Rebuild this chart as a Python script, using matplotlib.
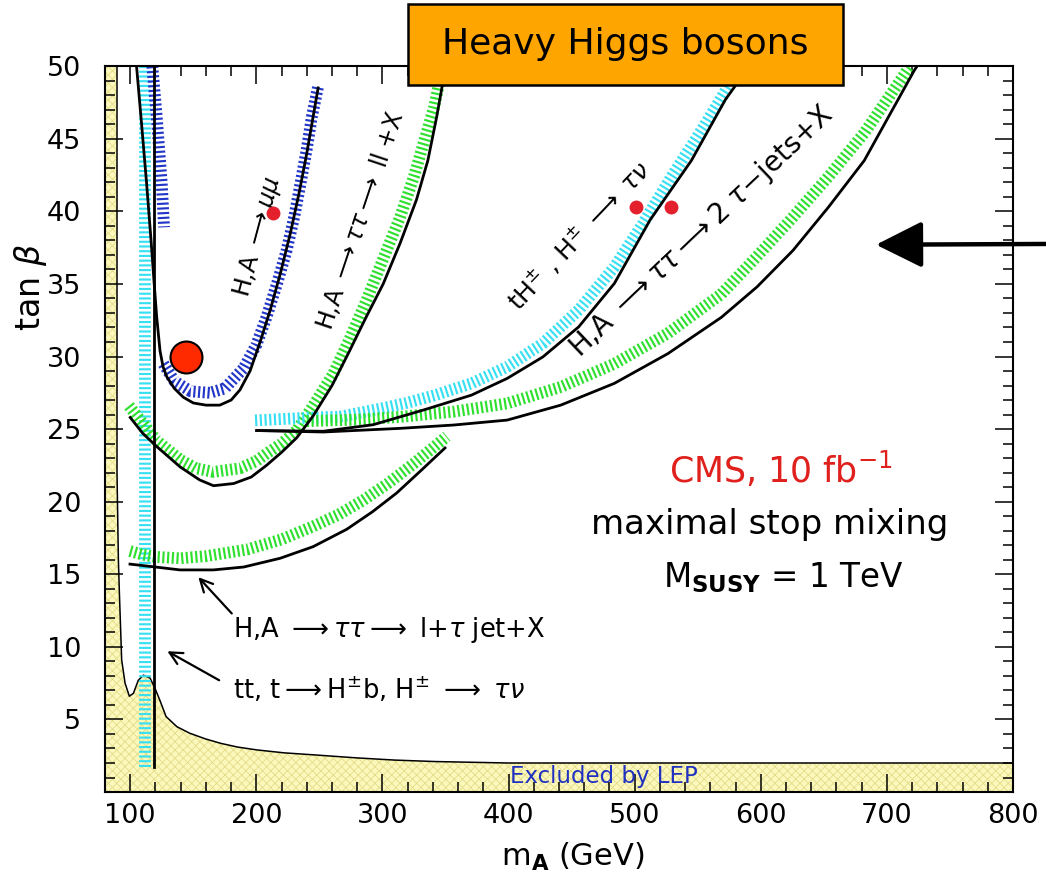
import numpy as np
import matplotlib
matplotlib.use("Agg")
import matplotlib.pyplot as plt
from matplotlib import ticker
from matplotlib.patches import Rectangle

plt.rcParams['font.family'] = ['DejaVu Sans']
plt.rcParams['mathtext.fontset'] = 'dejavusans'
plt.rcParams['hatch.linewidth'] = 0.6

# ---------------- data (m_A in GeV, tan beta) ----------------
# LEP excluded region boundary
lep_m = [80, 89.5, 89.5, 90.6, 91.4, 93.2, 95.9, 99.3, 102.5, 106.4, 110.4, 115.7,
         119.6, 123.6, 128.4, 137, 147.2, 160, 172, 185, 200.5, 222, 247.4, 280,
         310, 341.7, 400, 800]
lep_tb = [50, 50, 22, 16, 13.7, 9.1, 7.5, 6.6, 6.8, 7.7, 8.05, 7.85,
          7.15, 6.3, 5.2, 4.5, 4.05, 3.65, 3.35, 3.1, 2.9, 2.7, 2.55, 2.35,
          2.2, 2.1, 2.0, 2.0]

# t -> H+- b, H+- -> tau nu (vertical contour)
tt_band_m = [111.8, 111.8]
tt_band_tb = [1.7, 50]
tt_line_m = [119, 119]
tt_line_tb = [1.7, 50]

# H,A -> mu mu
mumu_band_m = [126.3, 135, 148, 163, 175, 190, 200, 208, 216, 224, 230, 235, 240, 244, 249]
mumu_band_tb = [29.5, 28.3, 27.6, 27.5, 27.8, 29.2, 30.8, 32.7, 34.9, 37.3, 39.6, 41.9, 44.3, 46.5, 48.6]
mumu_band2_m = [117.5, 121, 125, 126.8]
mumu_band2_tb = [50, 46.5, 41.9, 38.9]
mumu_line_m = [105, 109, 113, 116.5, 119, 121, 123.6, 126, 129, 135, 142, 150, 160, 171,
               180, 187, 195, 203, 211, 219, 227, 234, 240, 245, 249]
mumu_line_tb = [50, 46, 41.9, 38, 35, 32.7, 30.4, 29.3, 28.6, 27.8, 27.2, 26.8, 26.65, 26.65,
                27.0, 27.7, 29.0, 31.0, 33.2, 35.7, 38.5, 41.3, 44.0, 46.5, 48.5]

# H,A -> tau tau -> ll + X
ll_band_m = [99, 110, 121, 139.5, 152, 166, 187, 200, 208, 220, 232, 245, 261, 274,
             287.5, 300, 314, 325, 335, 341, 346, 347.5]
ll_band_tb = [26.6, 25.4, 24.2, 22.9, 22.3, 22.05, 22.3, 22.8, 23.3, 24.0, 24.9, 26.6, 28.8, 31.2,
              33.9, 36.6, 39.6, 42.4, 45.4, 47.2, 49.2, 50]
ll_line_m = [100, 110, 121, 139.5, 155, 166, 182, 196, 208, 220, 232, 245, 260, 274,
             287, 300.6, 314, 327, 336, 343, 350]
ll_line_tb = [25.8, 24.7, 23.8, 22.4, 21.5, 21.1, 21.25, 21.7, 22.5, 23.4, 24.4, 25.9, 28.0, 30.4,
              32.7, 35.0, 37.8, 40.8, 43.5, 46.5, 49.9]

# H,A -> tau tau -> l + tau jet + X
tj_band_m = [99.8, 110, 120, 139.5, 160, 192.4, 220, 245, 265, 284.8, 305, 324.5, 340, 351]
tj_band_tb = [16.6, 16.35, 16.2, 16.1, 16.25, 16.7, 17.4, 18.3, 19.1, 20.1, 21.3, 22.6, 23.7, 24.5]
tj_line_m = [99.8, 120, 139.5, 166, 190, 218.8, 245, 271.7, 292, 311.3, 330, 349.6]
tj_line_tb = [15.7, 15.5, 15.3, 15.3, 15.5, 16.1, 16.9, 18.1, 19.3, 20.6, 22.1, 23.7]

# tH+-, H+- -> tau nu
tn_band_m = [199, 245, 266, 298, 319, 342, 370.6, 398.9, 427.2, 455.6, 483.9, 506.5, 529.1,
             554.6, 577.3, 582]
tn_band_tb = [25.6, 25.8, 25.85, 26.4, 26.8, 27.34, 28.15, 29.29, 30.9, 33.2, 36.16, 39.15, 42.37,
              45.8, 49.04, 50]
tn_line_m = [200.3, 253, 292.6, 332, 370.6, 398.9, 427.2, 455.6, 483.9, 512.2, 545, 572, 591]
tn_line_tb = [24.9, 24.85, 25.3, 26.3, 27.34, 28.49, 29.97, 32.04, 35.03, 39.4, 43.5, 47.7, 50]

# H,A -> tau tau -> 2 tau-jets + X
jj_band_m = [240, 280, 313.9, 356.4, 398.9, 441.4, 483.9, 526.4, 568.8, 597.1, 625.5, 653.8,
             682.1, 716.1, 719]
jj_band_tb = [25.55, 25.65, 25.84, 26.2, 26.77, 27.9, 29.5, 31.6, 34.3, 36.9, 39.6, 42.4,
              45.4, 49.7, 50]
jj_line_m = [200.3, 253, 313.9, 356.4, 398.9, 441.4, 483.9, 526.4, 568.8, 597.1, 625.5, 653.8,
             682.1, 721.7, 724]
jj_line_tb = [24.9, 24.8, 25.05, 25.28, 25.62, 26.65, 28.15, 30.2, 32.7, 34.8, 37.3, 40.3,
              43.5, 49.7, 50]

# benchmark points
big_point_m, big_point_tb = [144.2], [30.0]
dots_m = [213, 501, 529]
dots_tb = [39.9, 40.3, 40.3]

x_ticks = [100, 200, 300, 400, 500, 600, 700, 800]
y_ticks = [5, 10, 15, 20, 25, 30, 35, 40, 45, 50]

# ---------------- colours / styles ----------------
CYAN = '#36e0f2'
GREEN = '#2ee02e'
BLUE = '#2236c8'
band_style = dict(lw=8.5, linestyle=(0, (0.18, 0.22)), zorder=3)
line_style = dict(color='black', lw=2.0, zorder=4)

fig = plt.figure(figsize=(10.46, 8.82), dpi=100)
ax = fig.add_axes([0.1004, 0.102, 0.868, 0.823])
ax.set_xlim(80, 800)
ax.set_ylim(0, 50)

# LEP excluded area
x0, x1 = ax.get_xlim()
y0, _ = ax.get_ylim()
poly_m = [x0] + lep_m + [x1]
poly_tb = [y0] + lep_tb + [y0]
ax.fill(poly_m, poly_tb, facecolor='#fcf8bc', edgecolor='#e3dc8a', hatch='xxxx',
        linewidth=0, zorder=1)
ax.plot(lep_m[1:], lep_tb[1:], color='black', lw=1.1, zorder=2)
ax.text(401, 1.1, 'Excluded by LEP', color='#2030c0', fontsize=16.5,
        ha='left', va='center', zorder=6)

# bands
ax.plot(tt_band_m, tt_band_tb, color=CYAN, **band_style)
ax.plot(mumu_band_m, mumu_band_tb, color=BLUE, **band_style)
ax.plot(mumu_band2_m, mumu_band2_tb, color=BLUE, **band_style)
ax.plot(ll_band_m, ll_band_tb, color=GREEN, **band_style)
ax.plot(tj_band_m, tj_band_tb, color=GREEN, **band_style)
ax.plot(tn_band_m, tn_band_tb, color=CYAN, **band_style)
ax.plot(jj_band_m, jj_band_tb, color=GREEN, **band_style)

# black contours
for m, tb in [(tt_line_m, tt_line_tb), (mumu_line_m, mumu_line_tb), (ll_line_m, ll_line_tb),
              (tj_line_m, tj_line_tb), (tn_line_m, tn_line_tb), (jj_line_m, jj_line_tb)]:
    ax.plot(m, tb, **line_style)

# points
ax.plot(big_point_m, big_point_tb, 'o', ms=23, color='#ff2a00', mec='black', mew=1.5, zorder=7)
ax.plot(dots_m, dots_tb, 'o', ms=10, color='#e3202c', mec='none', zorder=7)

# curve labels
lab_kw = dict(fontsize=17, ha='center', va='center', rotation_mode='anchor', zorder=6)
ax.text(201, 38.2, r'H,A $\longrightarrow\mu\mu$', rotation=75, **lab_kw)
ax.text(282, 39.4, r'H,A $\longrightarrow\tau\tau\longrightarrow$ ll +X', rotation=71.5, **lab_kw)
ax.text(455.5, 38.4, r'tH$^{\pm}$ , H$^{\pm}$ $\longrightarrow$ $\tau\nu$', rotation=46.5,
        **{**lab_kw, 'fontsize': 18})
ax.text(553, 38.6, r'H,A $\longrightarrow\tau\tau\longrightarrow$2 $\tau$$-$jets+X', rotation=43.5,
        **{**lab_kw, 'fontsize': 20})

ax.text(181.5, 11.15, r'H,A $\longrightarrow\tau\tau\longrightarrow$ l+$\tau$ jet+X', fontsize=18.5,
        ha='left', va='center', zorder=6)
ax.text(181.5, 7.0, r'tt, t$\longrightarrow$H$^{\pm}$b, H$^{\pm}$ $\longrightarrow$ $\tau\nu$',
        fontsize=18.5, ha='left', va='center', zorder=6)
arrow_kw = dict(arrowstyle='->,head_length=0.5,head_width=0.25', lw=1.6, color='black',
                mutation_scale=18, shrinkA=0, shrinkB=0)
ax.annotate('', xy=(154, 14.8), xytext=(180.5, 12.3), arrowprops=arrow_kw, zorder=6)
ax.annotate('', xy=(129.4, 9.7), xytext=(170.5, 7.7), arrowprops=arrow_kw, zorder=6)

# right-hand annotations
ax.text(616, 22.2, r'CMS, 10 fb$^{-1}$', color='#e0201c', fontsize=25, ha='center',
        va='center', zorder=6)
ax.text(607, 18.4, 'maximal stop mixing', fontsize=24.5, ha='center', va='center', zorder=6)
ax.text(618, 14.8, r'M$_{\mathbf{SUSY}}$ = 1 TeV', fontsize=23.5, ha='center', va='center',
        zorder=6)

# big arrow coming from the right edge
ax.annotate('', xy=(691.4, 37.7), xycoords='data', xytext=(1.0, 0.7234),
            textcoords='figure fraction',
            arrowprops=dict(arrowstyle='-|>,head_length=0.8,head_width=0.4', lw=3.2,
                            color='black', mutation_scale=36, shrinkA=0, shrinkB=0),
            annotation_clip=False, zorder=8)

# axes formatting
ax.set_xticks(x_ticks)
ax.set_yticks(y_ticks)
ax.xaxis.set_minor_locator(ticker.MultipleLocator(20))
ax.yaxis.set_minor_locator(ticker.MultipleLocator(1))
ax.tick_params(which='both', direction='in', top=True, right=True, width=1.1)
ax.tick_params(which='major', length=13)
ax.tick_params(which='minor', length=7)
ax.tick_params(axis='x', pad=8, labelsize=19.5)
ax.tick_params(axis='y', pad=17, labelsize=19.5)
for s in ax.spines.values():
    s.set_linewidth(1.5)
    s.set_zorder(9)

ax.set_xlabel(r'm$_{\mathbf{A}}$ (GeV)', fontsize=22)
ax.xaxis.set_label_coords(0.515, -0.068)
ax.set_ylabel(r'tan $\beta$', fontsize=24)
ax.yaxis.set_label_coords(-0.062, 0.696)

# title box
fig.add_artist(Rectangle((0.390, 0.9036), 0.4159, 0.0918, transform=fig.transFigure,
                         facecolor='#ffa500', edgecolor='black', lw=1.8, zorder=10))
fig.text(0.598, 0.950, 'Heavy Higgs bosons', fontsize=26, ha='center', va='center', zorder=11)

fig.savefig('out.png', dpi=100)
